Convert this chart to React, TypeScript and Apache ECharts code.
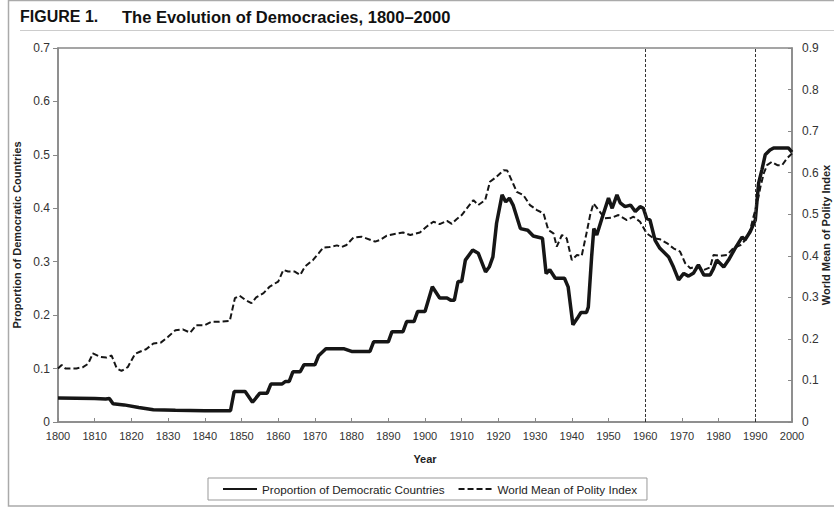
import React, { useEffect, useRef } from "react";
import * as echarts from "echarts";

const titleText = "FIGURE 1.";
const titleMain = "The Evolution of Democracies, 1800–2000";
const leftName = "Proportion of Democratic Countries";
const rightName = "World Mean of Polity Index";
const xName = "Year";
const markYears = [1960, 1990];

const demYears = [
  1800, 1810, 1813, 1814, 1815, 1818, 1822, 1826, 1832, 1840, 1847, 1848, 1851, 1853, 1855, 1857, 1858, 1861, 1862,
  1863, 1864, 1866, 1867, 1870, 1871, 1873, 1878, 1880, 1885, 1886, 1890, 1891, 1894, 1895, 1897, 1898, 1900, 1902,
  1904, 1906, 1907, 1908, 1909, 1910, 1911, 1913, 1914.5, 1916.5, 1917.5, 1918.5, 1919.5, 1921, 1922, 1923, 1924,
  1926, 1928, 1929.5, 1932, 1933, 1934, 1935.5, 1938, 1939, 1940.3, 1941.5, 1942.5, 1944, 1944.5, 1945.4, 1946,
  1946.8, 1948.2, 1950, 1951, 1952.3, 1953.2, 1954.5, 1956, 1957.3, 1958.6, 1959.5, 1960.4, 1961.3, 1962.7, 1964,
  1966.4, 1967.7, 1969.1, 1970.5, 1971.8, 1973.2, 1974.5, 1976, 1977.7, 1978.6, 1979.5, 1981.4, 1982.7, 1984.5,
  1986.4, 1987.2, 1988.6, 1990, 1990.9, 1991.8, 1992.7, 1994, 1995, 1999, 2000,
];
const demValues = [
  0.045, 0.044, 0.043, 0.044, 0.034, 0.032, 0.027, 0.023, 0.022, 0.021, 0.021, 0.057, 0.057, 0.037, 0.054, 0.054,
  0.071, 0.071, 0.076, 0.076, 0.094, 0.094, 0.107, 0.107, 0.124, 0.137, 0.137, 0.132, 0.132, 0.15, 0.15, 0.169,
  0.169, 0.188, 0.188, 0.207, 0.207, 0.253, 0.232, 0.232, 0.228, 0.228, 0.263, 0.263, 0.303, 0.322, 0.316, 0.281,
  0.29, 0.309, 0.372, 0.425, 0.412, 0.419, 0.406, 0.362, 0.359, 0.348, 0.344, 0.278, 0.285, 0.269, 0.269, 0.253,
  0.182, 0.194, 0.205, 0.205, 0.215, 0.309, 0.362, 0.35, 0.381, 0.419, 0.4, 0.425, 0.41, 0.403, 0.406, 0.394, 0.403,
  0.4, 0.381, 0.378, 0.34, 0.325, 0.309, 0.29, 0.266, 0.278, 0.273, 0.279, 0.294, 0.275, 0.275, 0.287, 0.303, 0.29,
  0.303, 0.325, 0.346, 0.341, 0.356, 0.378, 0.447, 0.472, 0.5, 0.509, 0.513, 0.513, 0.505,
];

const polYears = [
  1800, 1801, 1802, 1805, 1806.8, 1808.2, 1809.5, 1811.4, 1813.2, 1814.6, 1816, 1817.3, 1819, 1821, 1822.3, 1824,
  1826, 1828, 1830, 1832, 1834, 1836, 1837.7, 1840, 1841.8, 1844, 1846.8, 1848.2, 1849.5, 1851, 1852.7, 1854, 1856,
  1857.7, 1860, 1861.4, 1862.7, 1864.5, 1866, 1867.3, 1869.5, 1871, 1872.3, 1874, 1876, 1877.3, 1878.6, 1880.5,
  1882.7, 1884, 1886.4, 1887.7, 1889.5, 1891.4, 1894, 1896, 1898.6, 1900.4, 1902.3, 1904, 1906, 1907.3, 1908.6,
  1910, 1911.4, 1913.2, 1914.5, 1916.4, 1917.7, 1919.5, 1921.4, 1922.4, 1924, 1925, 1926.8, 1928.6, 1930.5, 1932.3,
  1933.6, 1935, 1935.9, 1937.3, 1938.6, 1940, 1941.4, 1942.7, 1944, 1945, 1945.9, 1947.3, 1949, 1951, 1952.7, 1955,
  1956.8, 1958.6, 1960.4, 1962.3, 1964, 1966, 1967.7, 1969.5, 1970.9, 1972.3, 1974, 1976, 1977.7, 1978.6, 1980.5,
  1982.3, 1984, 1986, 1987.3, 1988.6, 1989.5, 1990.5, 1991.4, 1992.3, 1993.2, 1994.5, 1996, 1997.3, 1998.6, 2000,
];
const polValues = [
  0.129, 0.137, 0.129, 0.129, 0.132, 0.14, 0.165, 0.157, 0.155, 0.16, 0.129, 0.123, 0.132, 0.164, 0.169, 0.175,
  0.189, 0.191, 0.205, 0.221, 0.223, 0.215, 0.233, 0.233, 0.241, 0.241, 0.243, 0.298, 0.304, 0.294, 0.286, 0.3, 0.31,
  0.326, 0.338, 0.366, 0.362, 0.362, 0.354, 0.374, 0.39, 0.406, 0.42, 0.421, 0.425, 0.421, 0.426, 0.444, 0.446,
  0.442, 0.434, 0.438, 0.448, 0.452, 0.456, 0.45, 0.456, 0.47, 0.482, 0.476, 0.484, 0.477, 0.488, 0.498, 0.514,
  0.534, 0.522, 0.534, 0.578, 0.59, 0.606, 0.605, 0.574, 0.554, 0.546, 0.522, 0.51, 0.502, 0.462, 0.454, 0.422, 0.45,
  0.442, 0.39, 0.402, 0.4, 0.454, 0.498, 0.526, 0.51, 0.49, 0.492, 0.498, 0.486, 0.494, 0.482, 0.454, 0.442, 0.44,
  0.43, 0.418, 0.41, 0.382, 0.37, 0.374, 0.366, 0.372, 0.402, 0.4, 0.402, 0.418, 0.426, 0.438, 0.462, 0.494, 0.526,
  0.566, 0.598, 0.618, 0.626, 0.618, 0.618, 0.634, 0.646,
];

const FONT = "'Liberation Sans', Arial, Helvetica, sans-serif";

export default function App() {
  const ref = useRef<HTMLDivElement>(null);
  useEffect(() => {
    if (!ref.current) return;
    const chart = echarts.init(ref.current, null, { renderer: "svg" });
    const fmt = (v: number) => (v === 0 ? "0" : v.toFixed(1));
    chart.setOption({
      animation: false,
      backgroundColor: "#ffffff",
      textStyle: { fontFamily: FONT },
      graphic: [
        { type: "rect", shape: { x: 8.5, y: 0.5, width: 840, height: 505.5 }, style: { fill: "none", stroke: "#aaaaaa", lineWidth: 1.5 }, silent: true },
        { type: "line", shape: { x1: 20, y1: 30.5, x2: 834, y2: 30.5 }, style: { stroke: "#cccccc", lineWidth: 1 }, silent: true },
        { type: "text", left: 20, top: 8, style: { text: titleText, font: `bold 16px ${FONT}`, fill: "#111" } },
        { type: "text", left: 122, top: 8, style: { text: titleMain, font: `bold 16.5px ${FONT}`, fill: "#111" } },
        {
          type: "text",
          x: 826,
          y: 235,
          rotation: Math.PI / 2,
          style: { text: rightName, font: `bold 11px ${FONT}`, fill: "#222", align: "center", verticalAlign: "middle" },
        },
      ],
      grid: { left: 58, right: 42, top: 48, bottom: 86, show: true, borderColor: "#888", borderWidth: 1.5, outerBoundsMode: "none" },
      legend: {
        left: 208,
        top: 478,
        padding: [5, 10, 5, 14],
        itemWidth: 34,
        itemHeight: 10,
        itemGap: 13,
        borderColor: "#999",
        borderWidth: 1,
        itemStyle: { opacity: 0 },
        textStyle: { fontSize: 11.7, color: "#222", fontFamily: FONT },
        data: [leftName, rightName],
      },
      xAxis: {
        type: "value",
        min: 1800,
        max: 2000,
        interval: 10,
        name: xName,
        nameLocation: "middle",
        nameGap: 31,
        nameTextStyle: { fontWeight: "bold", fontSize: 11, color: "#222" },
        axisLine: { lineStyle: { color: "#888", width: 1.5 } },
        axisTick: { inside: true, length: 4, lineStyle: { color: "#888" } },
        axisLabel: { fontSize: 11, color: "#333", margin: 8, formatter: (v: number) => String(v) },
        splitLine: { show: false },
      },
      yAxis: [
        {
          type: "value",
          min: 0,
          max: 0.7,
          interval: 0.1,
          name: leftName,
          nameLocation: "middle",
          nameGap: 36,
          nameTextStyle: { fontWeight: "bold", fontSize: 11, color: "#222" },
          axisLine: { show: true, lineStyle: { color: "#888", width: 1.5 } },
          axisTick: { show: true, length: 5, lineStyle: { color: "#888" } },
          axisLabel: { fontSize: 12, color: "#333", margin: 8, formatter: fmt },
          splitLine: { show: false },
        },
        {
          type: "value",
          min: 0,
          max: 0.9,
          interval: 0.1,
          position: "right",
          axisLine: { show: true, lineStyle: { color: "#888", width: 1.5 } },
          axisTick: { show: true, inside: true, length: 4, lineStyle: { color: "#888" } },
          axisLabel: { fontSize: 12, color: "#333", margin: 10, formatter: fmt },
          splitLine: { show: false },
        },
      ],
      series: [
        {
          name: leftName,
          type: "line",
          yAxisIndex: 0,
          showSymbol: false,
          symbol: "none",
          data: demYears.map((y, i) => [y, demValues[i]]),
          lineStyle: { color: "#161616", width: 3.5 },
          itemStyle: { color: "#161616" },
          markLine: {
            silent: true,
            symbol: "none",
            label: { show: false },
            lineStyle: { color: "#333", width: 1, type: [3, 2] },
            data: markYears.map((y) => ({ xAxis: y })),
          },
        },
        {
          name: rightName,
          type: "line",
          yAxisIndex: 1,
          showSymbol: false,
          symbol: "none",
          data: polYears.map((y, i) => [y, polValues[i]]),
          lineStyle: { color: "#161616", width: 2, type: [6, 3] },
          itemStyle: { color: "#161616" },
        },
      ],
    });
    return () => chart.dispose();
  }, []);
  return <div ref={ref} style={{ width: 834, height: 508, position: "absolute", left: 0, top: 0 }} />;
}
